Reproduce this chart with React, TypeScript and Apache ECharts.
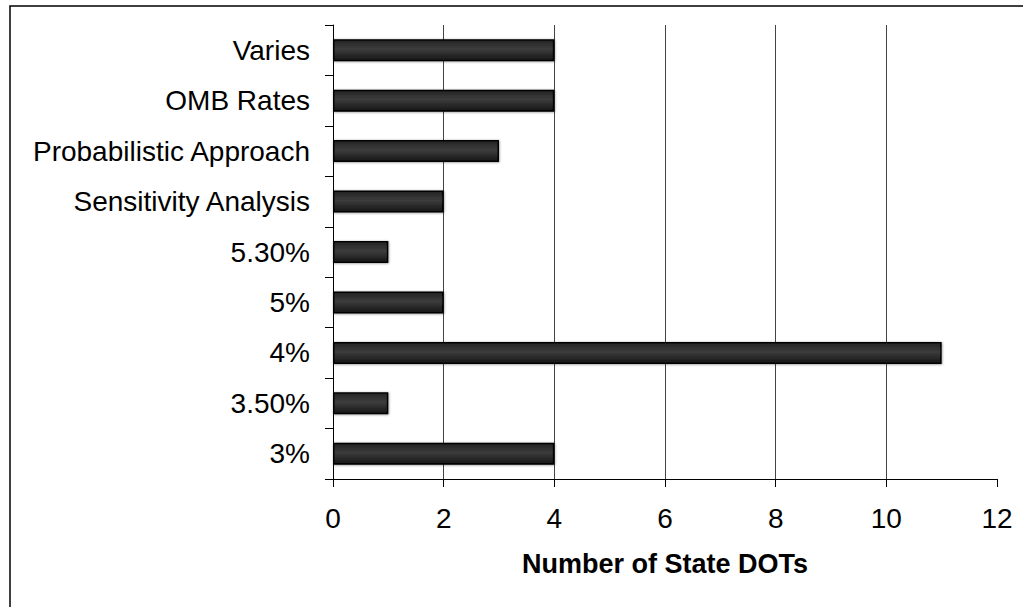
import React, { useEffect, useRef } from "react";
import * as echarts from "echarts";

const categories = [
  "3%",
  "3.50%",
  "4%",
  "5%",
  "5.30%",
  "Sensitivity Analysis",
  "Probabilistic Approach",
  "OMB Rates",
  "Varies",
];
const values = [4, 1, 11, 2, 1, 2, 3, 4, 4];
const xTicks = { min: 0, max: 12, interval: 2 };
const xAxisTitle = "Number of State DOTs";

export default function App() {
  const ref = useRef<HTMLDivElement>(null);
  useEffect(() => {
    if (!ref.current) return;
    const chart = echarts.init(ref.current, undefined, { renderer: "svg" });
    const font = "Arial, 'Liberation Sans', Helvetica, sans-serif";
    chart.setOption({
      animation: false,
      backgroundColor: "#ffffff",
      textStyle: { fontFamily: font },
      grid: { left: 333, right: 26, top: 25, bottom: 128, containLabel: false },
      graphic: [
        {
          type: "rect",
          shape: { x: 10, y: 6, width: 1200, height: 800 },
          style: { fill: "none", stroke: "#000", lineWidth: 1.5 },
          silent: true,
          z: 100,
        },
      ],
      xAxis: {
        type: "value",
        min: xTicks.min,
        max: xTicks.max,
        interval: xTicks.interval,
        name: xAxisTitle,
        nameLocation: "middle",
        nameGap: 71,
        nameTextStyle: {
          color: "#000",
          fontSize: 27,
          fontWeight: "bold",
          fontFamily: font,
        },
        axisLine: { show: true, lineStyle: { color: "#000", width: 1 } },
        axisTick: { show: true, length: 8, inside: false, lineStyle: { color: "#000" } },
        axisLabel: { color: "#000", fontSize: 28, margin: 25, fontFamily: font },
        splitLine: {
          show: true,
          showMinLine: false,
          showMaxLine: false,
          lineStyle: { color: "#444", width: 1 },
        },
      },
      yAxis: {
        type: "category",
        data: categories,
        axisLine: { show: true, lineStyle: { color: "#000", width: 1 } },
        axisTick: { show: true, length: 8, inside: false, lineStyle: { color: "#000" } },
        axisLabel: { color: "#000", fontSize: 28, margin: 23, fontFamily: font },
        splitLine: { show: false },
      },
      series: [
        {
          type: "bar",
          data: values,
          barWidth: 22,
          itemStyle: {
            color: new echarts.graphic.LinearGradient(0, 0, 0, 1, [
              { offset: 0, color: "#242424" },
              { offset: 0.45, color: "#3c3c3c" },
              { offset: 1, color: "#161616" },
            ]),
            borderColor: "#000",
            borderWidth: 1.5,
            shadowColor: "rgba(0,0,0,0.45)",
            shadowOffsetX: 0.5,
            shadowOffsetY: 0.5,
            shadowBlur: 2,
          },
        },
      ],
    });
    return () => chart.dispose();
  }, []);
  return (
    <div
      ref={ref}
      style={{ position: "fixed", left: 0, top: 0, width: 1023, height: 607 }}
    />
  );
}
